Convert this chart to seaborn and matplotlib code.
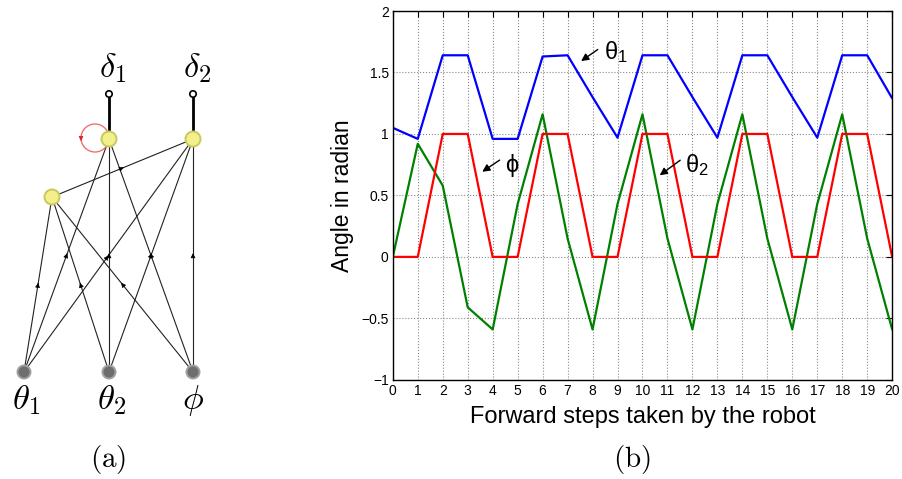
import numpy as np
import pandas as pd
import matplotlib
matplotlib.use("Agg")
import matplotlib.pyplot as plt
from matplotlib.patches import Circle
import seaborn as sns

# chart data (b)
steps = list(range(21))
theta1 = [1.05, 0.96, 1.64, 1.64, 0.96, 0.96, 1.63, 1.64, 1.30, 0.97, 1.64,
          1.64, 1.30, 0.97, 1.64, 1.64, 1.30, 0.97, 1.64, 1.64, 1.29]
theta2 = [0.0, 0.92, 0.58, -0.41, -0.59, 0.43, 1.16, 0.15, -0.59, 0.43, 1.16,
          0.15, -0.59, 0.43, 1.16, 0.15, -0.59, 0.43, 1.16, 0.15, -0.59]
phi = [0, 0, 1, 1, 0, 0, 1, 1, 0, 0, 1, 1, 0, 0, 1, 1, 0, 0, 1, 1, 0]

# network diagram (a), pixel layout
node_names = ["th1", "th2", "phi", "hid", "d1", "d2"]
node_x = [24, 109, 193, 52, 109, 193]
node_y = [372, 372, 372, 197, 139, 139]
edges = [("th1", "hid"), ("th2", "hid"), ("phi", "hid"),
         ("th1", "d1"), ("th2", "d1"), ("phi", "d1"),
         ("th1", "d2"), ("th2", "d2"), ("phi", "d2"),
         ("hid", "d2")]

df = pd.DataFrame({"step": steps * 3,
                   "angle": theta1 + theta2 + phi,
                   "series": ["theta1"] * 21 + ["theta2"] * 21 + ["phi"] * 21})

sns.set_style("white")
plt.rcParams["font.family"] = ["Liberation Sans", "DejaVu Sans"]
plt.rcParams["mathtext.fontset"] = "cm"
plt.rcParams["text.color"] = "black"

fig = plt.figure(figsize=(9.03, 4.79), dpi=100)

# ---- panel (a) overlay in pixel coordinates
ov = fig.add_axes([0, 0, 1, 1])
ov.set_xlim(0, 903)
ov.set_ylim(479, 0)
ov.axis("off")
pos = {n: (x, y) for n, x, y in zip(node_names, node_x, node_y)}

for a, b in edges:
    (x0, y0), (x1, y1) = pos[a], pos[b]
    ov.plot([x0, x1], [y0, y1], color="#222222", lw=0.8, zorder=1)
    mx, my = (x0 + x1) / 2, (y0 + y1) / 2
    dx, dy = (x1 - x0) * 0.01, (y1 - y0) * 0.01
    ov.annotate("", xy=(mx + dx, my + dy), xytext=(mx - dx, my - dy),
                arrowprops=dict(arrowstyle="-|>", color="black", lw=0.5,
                                mutation_scale=7), zorder=2)

# self loop on delta1
ov.add_patch(Circle((95, 138), 14, fill=False, ec="#f07070", lw=1, zorder=2))
ov.annotate("", xy=(81, 141), xytext=(81, 136),
            arrowprops=dict(arrowstyle="-|>", color="#e02020", lw=0.5,
                            mutation_scale=7), zorder=3)

# output terminals
for n in ["d1", "d2"]:
    x, y = pos[n]
    ov.plot([x, x], [y, 94], color="black", lw=2, zorder=2)
    ov.add_patch(Circle((x, 94), 3.2, fc="white", ec="black", lw=1.2, zorder=4))

for n in ["hid", "d1", "d2"]:
    ov.add_patch(Circle(pos[n], 7.5, fc="#f3f08a", ec="#c8c860", lw=1.4, zorder=4))
for n in ["th1", "th2", "phi"]:
    ov.add_patch(Circle(pos[n], 6.5, fc="#6e6e6e", ec="#a0a0a0", lw=1.4, zorder=4))

ov.text(113, 68, r"$\delta_1$", fontsize=25, ha="center", va="center")
ov.text(197, 68, r"$\delta_2$", fontsize=25, ha="center", va="center")
ov.text(26, 400, r"$\theta_1$", fontsize=25, ha="center", va="center")
ov.text(112, 400, r"$\theta_2$", fontsize=25, ha="center", va="center")
ov.text(193, 400, r"$\phi$", fontsize=25, ha="center", va="center")
ov.text(108, 459, r"$\mathrm{(a)}$", fontsize=21, ha="center", va="center")
ov.text(632, 459, r"$\mathrm{(b)}$", fontsize=21, ha="center", va="center")

# ---- panel (b)
ax = fig.add_axes([0.435, 0.207, 0.553, 0.770])
sns.lineplot(data=df, x="step", y="angle", hue="series",
             palette={"theta1": "#0000ff", "theta2": "#008000", "phi": "#ff0000"},
             hue_order=["theta1", "theta2", "phi"], lw=1.6, legend=False, ax=ax)
ax.set_xlim(0, 20)
ax.set_ylim(-1, 2)
ax.set_xticks(steps)
ax.set_yticks([-1, -0.5, 0, 0.5, 1, 1.5, 2])
ax.set_yticklabels(["\u22121", "\u22120.5", "0", "0.5", "1", "1.5", "2"])
ax.grid(True, ls=":", color="#888888", lw=0.8)
ax.tick_params(direction="in", top=True, right=True, length=4, labelsize=10,
               pad=3, color="black", labelcolor="black")
for s in ax.spines.values():
    s.set_color("black")
    s.set_linewidth(1)
ax.set_xlabel("Forward steps taken by the robot", fontsize=17, labelpad=6,
              color="black")
ax.set_ylabel("Angle in radian", fontsize=16.5, labelpad=5, color="black")

arrow = dict(arrowstyle="-|>", color="black", lw=1, mutation_scale=11)
ax.annotate("", xy=(7.45, 1.58), xytext=(8.3, 1.70), arrowprops=arrow)
ax.text(8.45, 1.67, r"$\mathregular{θ_1}$", fontsize=17, va="center")
ax.annotate("", xy=(3.49, 0.68), xytext=(4.37, 0.80), arrowprops=arrow)
ax.text(4.5, 0.74, "ϕ", fontsize=17, va="center")
ax.annotate("", xy=(10.6, 0.65), xytext=(11.6, 0.80), arrowprops=arrow)
ax.text(11.7, 0.75, r"$\mathregular{θ_2}$", fontsize=17, va="center")

fig.savefig("out.png", dpi=100)
